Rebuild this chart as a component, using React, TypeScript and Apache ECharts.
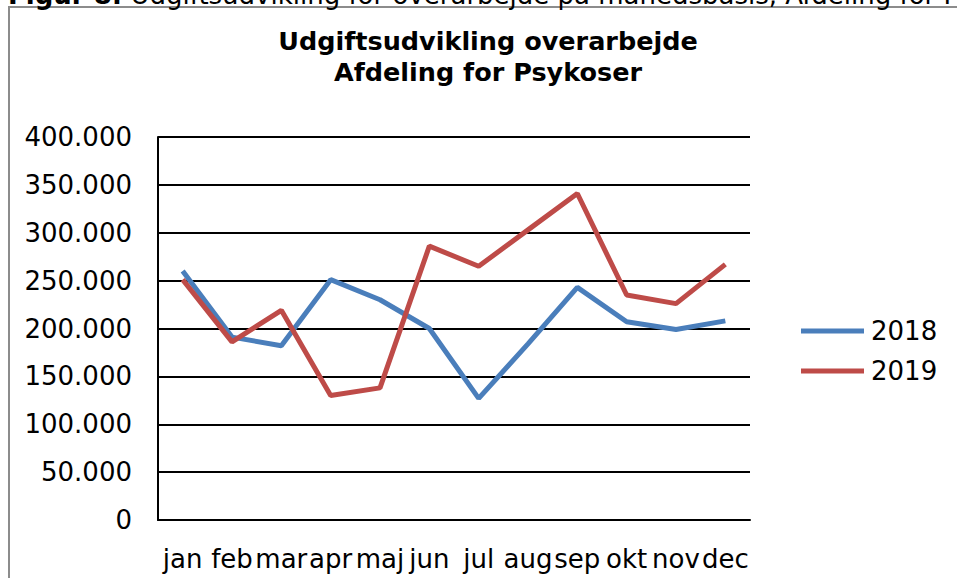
import React, { useEffect, useRef } from "react";
import * as echarts from "echarts";

const months = ["jan", "feb", "mar", "apr", "maj", "jun", "jul", "aug", "sep", "okt", "nov", "dec"];
const values2018 = [260000, 191000, 182000, 251000, 230000, 200000, 127000, 184000, 243000, 207000, 199000, 208000];
const values2019 = [251000, 186000, 219000, 130000, 138000, 286000, 265000, 303000, 341000, 235000, 226000, 267000];
const seriesNames = ["2018", "2019"];
const chartTitle = "Udgiftsudvikling overarbejde\nAfdeling for Psykoser";
const captionBold = "Figur 8:";
const captionText = " Udgiftsudvikling for overarbejde på månedsbasis, Afdeling for Psykoser";

const FONT = "DejaVu Sans, Verdana, sans-serif";

function fmt(v: number): string {
  return String(v).replace(/\B(?=(\d{3})+(?!\d))/g, ".");
}

export default function App() {
  const ref = useRef<HTMLDivElement>(null);
  useEffect(() => {
    if (!ref.current) return;
    const chart = echarts.init(ref.current, null, { renderer: "svg" });
    chart.setOption({
      animation: false,
      backgroundColor: "#ffffff",
      textStyle: { fontFamily: FONT },
      graphic: [
        {
          type: "rect",
          shape: { x: 9, y: 7, width: 1000, height: 1000 },
          style: { fill: "none", stroke: "#8c8c8c", lineWidth: 2 },
          silent: true,
        },
        {
          type: "text",
          x: 8,
          y: -5,
          style: {
            text: "{b|" + captionBold + "}{n|" + captionText + "}",
            verticalAlign: "middle",
            rich: {
              b: { fontFamily: FONT, fontSize: 26, fontWeight: "bold", fill: "#000" },
              n: { fontFamily: FONT, fontSize: 26, fill: "#000" },
            },
          },
          silent: true,
        },
        {
          type: "text",
          x: 488,
          y: 56,
          style: {
            text: chartTitle,
            fontFamily: FONT,
            fontSize: 25.5,
            fontWeight: "bold",
            lineHeight: 31,
            align: "center",
            verticalAlign: "middle",
            fill: "#000",
          },
          silent: true,
        },
      ],
      grid: { left: 158, right: 207, top: 137, bottom: 58, containLabel: false },
      legend: {
        orient: "vertical",
        left: 796,
        top: 313,
        itemWidth: 63,
        itemHeight: 5,
        itemGap: 14,
        icon: "rect",
        data: seriesNames,
        textStyle: { fontFamily: FONT, fontSize: 26, color: "#000", padding: [0, 0, 0, 2] },
      },
      xAxis: {
        type: "category",
        data: months,
        boundaryGap: true,
        axisLine: { lineStyle: { color: "#000", width: 2 } },
        axisTick: { show: false },
        axisLabel: { interval: 0, margin: 26, fontFamily: FONT, fontSize: 26, color: "#000", hideOverlap: false },
      },
      yAxis: {
        type: "value",
        min: 0,
        max: 400000,
        interval: 50000,
        axisLine: { show: true, lineStyle: { color: "#000", width: 2 } },
        axisTick: { show: false },
        splitLine: { show: true, lineStyle: { color: "#000", width: 2 } },
        axisLabel: { margin: 26, fontFamily: FONT, fontSize: 26, color: "#000", formatter: (v: number) => fmt(v) },
      },
      series: [
        {
          name: seriesNames[0],
          type: "line",
          data: values2018,
          symbol: "none",
          lineStyle: { color: "#4a7ebb", width: 5 },
          itemStyle: { color: "#4a7ebb" },
        },
        {
          name: seriesNames[1],
          type: "line",
          data: values2019,
          symbol: "none",
          lineStyle: { color: "#be4b48", width: 5 },
          itemStyle: { color: "#be4b48" },
        },
      ],
    });
    return () => chart.dispose();
  }, []);
  return (
    <div
      ref={ref}
      style={{ position: "absolute", left: 0, top: 0, width: 957, height: 578 }}
    />
  );
}
